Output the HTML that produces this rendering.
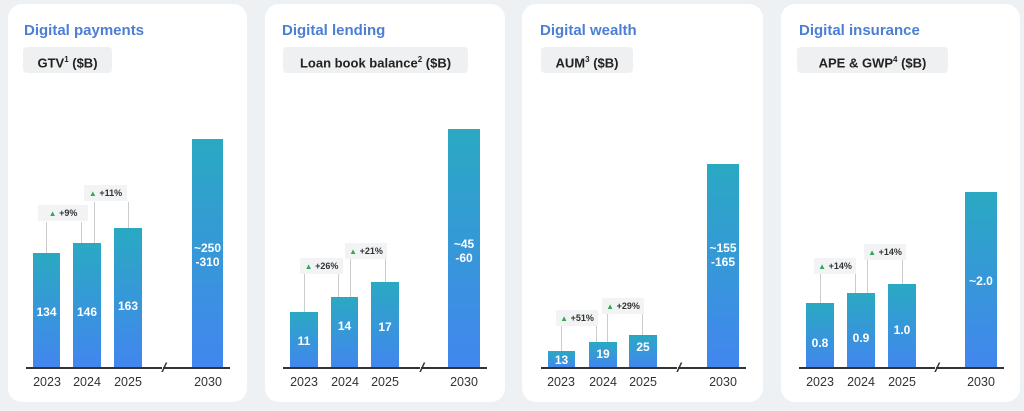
<!DOCTYPE html><html><head><style>
body{margin:0;width:1024px;height:411px;background:#edf1f4;font-family:"Liberation Sans",sans-serif;position:relative;overflow:hidden}
.a{position:absolute}
.card{position:absolute;top:4px;height:398px;background:#fff;border-radius:14px}
.t{position:absolute;font-weight:bold;font-size:15px;color:#4c7fd4}
.pill{position:absolute;height:26px;background:#eef0f2;border-radius:4px;font-size:13px;font-weight:bold;color:#222;line-height:26px;text-align:center}
.pill sup{font-size:8px}
.bar{position:absolute;bottom:43px;background:linear-gradient(#2aa9c2,#4286ef)}
.v{position:absolute;width:100%;text-align:center;color:#fff;font-weight:bold;font-size:12px;line-height:14px}
.ax{position:absolute;top:367px;height:1.5px;background:#333}
.yr{position:absolute;top:375px;font-size:12.5px;color:#333;width:40px;text-align:center}
.bd{position:absolute;height:16px;background:#f1f3f4;font-size:9px;font-weight:bold;color:#333;line-height:16px;text-align:center}
.bd i{color:#34a853;font-style:normal;font-size:8px}
.ln{position:absolute;width:1px;background:#ccc}
.brk{position:absolute;top:360px;font-size:13px;color:#333;font-style:italic;background:#fff;letter-spacing:-3px}
</style></head><body>
<div class="card" style="left:8px;width:239px"></div>
<div class="card" style="left:265px;width:240px"></div>
<div class="card" style="left:522px;width:241px"></div>
<div class="card" style="left:781px;width:239px"></div>

<div class="t" style="left:24px;top:22px">Digital payments</div>
<div class="pill" style="left:23px;top:47px;width:89px">GTV<sup>1</sup> ($B)</div>
<div class="t" style="left:282px;top:22px">Digital lending</div>
<div class="pill" style="left:283px;top:47px;width:185px">Loan book balance<sup>2</sup> ($B)</div>
<div class="t" style="left:540px;top:22px">Digital wealth</div>
<div class="pill" style="left:541px;top:47px;width:92px">AUM<sup>3</sup> ($B)</div>
<div class="t" style="left:799px;top:22px">Digital insurance</div>
<div class="pill" style="left:797px;top:47px;width:151px">APE &amp; GWP<sup>4</sup> ($B)</div>

<!-- card1 -->
<div class="ln" style="left:46px;top:222px;height:31px"></div><div class="ln" style="left:81px;top:222px;height:21px"></div>
<div class="ln" style="left:94px;top:202px;height:41px"></div><div class="ln" style="left:128px;top:202px;height:26px"></div>
<div class="bd" style="left:38px;top:205px;width:50px"><i>▲</i> +9%</div>
<div class="bd" style="left:84px;top:185px;width:43px"><i>▲</i> +11%</div>
<div class="bar" style="left:33px;width:27px;top:253px"><div class="v" style="top:52px">134</div></div>
<div class="bar" style="left:73px;width:28px;top:243px"><div class="v" style="top:62px">146</div></div>
<div class="bar" style="left:114px;width:28px;top:228px"><div class="v" style="top:71px">163</div></div>
<div class="bar" style="left:192px;width:31px;top:139px"><div class="v" style="top:102px">~250<br>-310</div></div>
<div class="ax" style="left:26px;width:204px"></div><div class="brk" style="left:162px">//</div>
<div class="yr" style="left:27px">2023</div><div class="yr" style="left:67px">2024</div><div class="yr" style="left:108px">2025</div><div class="yr" style="left:188px">2030</div>

<!-- card2 -->
<div class="ln" style="left:304px;top:273px;height:39px"></div><div class="ln" style="left:338px;top:273px;height:24px"></div>
<div class="ln" style="left:350px;top:258px;height:39px"></div><div class="ln" style="left:385px;top:258px;height:24px"></div>
<div class="bd" style="left:300px;top:258px;width:43px"><i>▲</i> +26%</div>
<div class="bd" style="left:345px;top:243px;width:42px"><i>▲</i> +21%</div>
<div class="bar" style="left:290px;width:28px;top:312px"><div class="v" style="top:22px">11</div></div>
<div class="bar" style="left:331px;width:27px;top:297px"><div class="v" style="top:22px">14</div></div>
<div class="bar" style="left:371px;width:28px;top:282px"><div class="v" style="top:38px">17</div></div>
<div class="bar" style="left:448px;width:32px;top:129px"><div class="v" style="top:108px">~45<br>-60</div></div>
<div class="ax" style="left:283px;width:204px"></div><div class="brk" style="left:420px">//</div>
<div class="yr" style="left:284px">2023</div><div class="yr" style="left:325px">2024</div><div class="yr" style="left:365px">2025</div><div class="yr" style="left:444px">2030</div>

<!-- card3 -->
<div class="ln" style="left:561px;top:326px;height:25px"></div><div class="ln" style="left:596px;top:326px;height:16px"></div>
<div class="ln" style="left:607px;top:314px;height:28px"></div><div class="ln" style="left:642px;top:314px;height:21px"></div>
<div class="bd" style="left:556px;top:310px;width:42px"><i>▲</i> +51%</div>
<div class="bd" style="left:602px;top:298px;width:42px"><i>▲</i> +29%</div>
<div class="bar" style="left:548px;width:27px;top:351px"><div class="v" style="top:2px">13</div></div>
<div class="bar" style="left:589px;width:28px;top:342px"><div class="v" style="top:5px">19</div></div>
<div class="bar" style="left:629px;width:28px;top:335px"><div class="v" style="top:5px">25</div></div>
<div class="bar" style="left:707px;width:32px;top:164px"><div class="v" style="top:77px">~155<br>-165</div></div>
<div class="ax" style="left:541px;width:205px"></div><div class="brk" style="left:677px">//</div>
<div class="yr" style="left:541px">2023</div><div class="yr" style="left:583px">2024</div><div class="yr" style="left:623px">2025</div><div class="yr" style="left:703px">2030</div>

<!-- card4 -->
<div class="ln" style="left:820px;top:274px;height:29px"></div><div class="ln" style="left:855px;top:274px;height:19px"></div>
<div class="ln" style="left:867px;top:260px;height:33px"></div><div class="ln" style="left:902px;top:260px;height:24px"></div>
<div class="bd" style="left:814px;top:258px;width:42px"><i>▲</i> +14%</div>
<div class="bd" style="left:864px;top:244px;width:42px"><i>▲</i> +14%</div>
<div class="bar" style="left:806px;width:28px;top:303px"><div class="v" style="top:33px">0.8</div></div>
<div class="bar" style="left:847px;width:28px;top:293px"><div class="v" style="top:38px">0.9</div></div>
<div class="bar" style="left:888px;width:28px;top:284px"><div class="v" style="top:39px">1.0</div></div>
<div class="bar" style="left:965px;width:32px;top:192px"><div class="v" style="top:82px">~2.0</div></div>
<div class="ax" style="left:799px;width:205px"></div><div class="brk" style="left:935px">//</div>
<div class="yr" style="left:800px">2023</div><div class="yr" style="left:841px">2024</div><div class="yr" style="left:882px">2025</div><div class="yr" style="left:961px">2030</div>
</body></html>
